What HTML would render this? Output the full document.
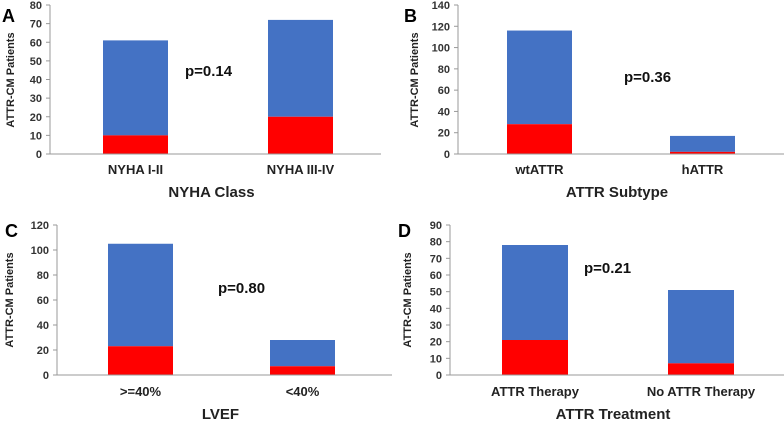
<!DOCTYPE html>
<html><head><meta charset="utf-8"><style>
body{margin:0;background:#fff;width:784px;height:422px;overflow:hidden}
svg{font-family:"Liberation Sans",sans-serif;font-weight:bold}
</style></head><body>
<svg id="chart" width="784" height="422" xmlns="http://www.w3.org/2000/svg"></svg>
<script>
const panelLetters=["A","B","C","D"];
const categoriesA=["NYHA I-II","NYHA III-IV"];
const categoriesB=["wtATTR","hATTR"];
const categoriesC=[">=40%","<40%"];
const categoriesD=["ATTR Therapy","No ATTR Therapy"];
const redA=[10,20], totalA=[61,72];
const redB=[28,2], totalB=[116,17];
const redC=[23,7], totalC=[105,28];
const redD=[21,7], totalD=[78,51];
const ticksA=[0,10,20,30,40,50,60,70,80];
const ticksB=[0,20,40,60,80,100,120,140];
const ticksC=[0,20,40,60,80,100,120];
const ticksD=[0,10,20,30,40,50,60,70,80,90];
const xTitles=["NYHA Class","ATTR Subtype","LVEF","ATTR Treatment"];
const pValues=["p=0.14","p=0.36","p=0.80","p=0.21"];

const layouts=[
 {ax:50,x1:381,top:5,bot:154,bars:[103,268],bw:65,px:185,py:76,lx:2,ly:22,catY:174,titleY:197,ytY:80,ytX:14},
 {ax:458,x1:784,top:5,bot:154,bars:[507,670],bw:65,px:624,py:82,lx:404,ly:22,catY:174,titleY:197,ytY:80,ytX:418},
 {ax:57,x1:392,top:225,bot:375,bars:[108,270],bw:65,px:218,py:293,lx:5,ly:237,catY:396,titleY:419,ytY:300,ytX:13},
 {ax:450,x1:784,top:225,bot:375,bars:[502,668],bw:66,px:584,py:273,lx:398,ly:237,catY:396,titleY:419,ytY:300,ytX:411}
];
const data=[[categoriesA,redA,totalA,ticksA],[categoriesB,redB,totalB,ticksB],[categoriesC,redC,totalC,ticksC],[categoriesD,redD,totalD,ticksD]];
const svg=document.getElementById('chart');
const NS="http://www.w3.org/2000/svg";
function mk(tag,attrs,parent){const e=document.createElementNS(NS,tag);for(const k in attrs)e.setAttribute(k,attrs[k]);parent.appendChild(e);return e;}
data.forEach((d,i)=>{
 const [cats,red,tot,ticks]=d;const L=layouts[i];
 const g=mk('g',{},svg);
 
 
 const maxV=ticks[ticks.length-1];
 const y=v=>L.bot-(v/maxV)*(L.bot-L.top);
 ticks.forEach(t=>{
  const tl=mk('line',{x1:L.ax-4,x2:L.ax,y1:y(t),y2:y(t),stroke:'#999'},g);
  
  
  const tx=mk('text',{x:L.ax-8,y:y(t)+4,'text-anchor':'end','font-size':11,fill:'#333'},g);
  tx.textContent=t;
  
  
 });
 cats.forEach((c,j)=>{
  const bx=L.bars[j];
  const rb=mk('rect',{x:bx,y:y(tot[j]),width:L.bw,height:y(red[j])-y(tot[j]),fill:'#4472C4'},g);
  
  
  const rr=mk('rect',{x:bx,y:y(red[j]),width:L.bw,height:L.bot-y(red[j]),fill:'#FF0000'},g);
  
  
  const ct=mk('text',{x:bx+L.bw/2,y:L.catY,'text-anchor':'middle','font-size':13,fill:'#222'},g);
  ct.textContent=c;
  
  
 });
 const ya=mk('line',{x1:L.ax,x2:L.ax,y1:L.top,y2:L.bot,stroke:'#999'},g);
 
 
 const xa=mk('line',{x1:L.ax,x2:L.x1,y1:L.bot,y2:L.bot,stroke:'#999'},g);
 
 
 const yt=mk('text',{x:0,y:0,'text-anchor':'middle','font-size':11,fill:'#222',transform:`translate(${L.ytX},${L.ytY}) rotate(-90)`},g);
 yt.textContent='ATTR-CM  Patients';
 
 
 const xt=mk('text',{x:(L.ax+L.x1)/2-4,y:L.titleY,'text-anchor':'middle','font-size':15,fill:'#222'},g);
 xt.textContent=xTitles[i];
 
 
 const pt=mk('text',{x:L.px,y:L.py,'font-size':15,fill:'#111'},g);
 pt.textContent=pValues[i];
 
 
 const lt=mk('text',{x:L.lx,y:L.ly,'font-size':18,fill:'#000'},g);
 lt.textContent=panelLetters[i];
 
 
});
</script>
</body></html>
